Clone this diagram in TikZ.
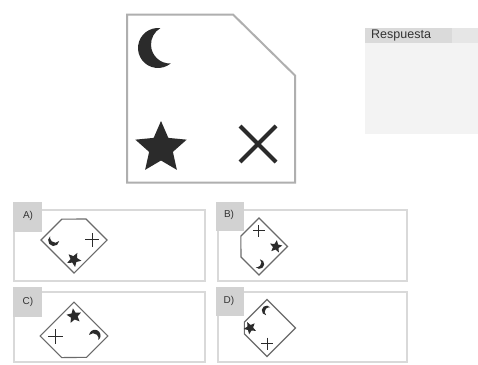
\documentclass[tikz,border=0pt]{standalone}
\usepackage{fontspec}
\setmainfont{Liberation Sans}
\definecolor{symc}{HTML}{2B2B2B}
\definecolor{mainb}{HTML}{AFAFAF}
\definecolor{optb}{HTML}{6A6A6A}
\definecolor{boxb}{HTML}{D9D9D9}
\definecolor{tabf}{HTML}{D2D2D2}
\definecolor{panelf}{HTML}{F3F3F3}
\definecolor{hdrf}{HTML}{DADADA}
\definecolor{hdrg}{HTML}{E6E6E6}
\definecolor{txtc}{HTML}{333333}
\tikzset{
  optbox/.style={draw=boxb, line width=1.5pt, fill=white},
  tabbox/.style={fill=tabf, draw=none},
  tablabel/.style={font=\fontsize{10}{11}\selectfont, text=txtc, inner sep=0pt},
  mainoutline/.style={draw=mainb, line width=2pt, line join=miter},
  optoutline/.style={draw=optb, line width=1.1pt, line join=miter},
}
% symbols of the figure in local coordinates (side 168, centre 0,0, y up)
\newcommand\figsyms[1]{%
  \fill[symc] (-50.65,70.36) arc[start angle=83.25, end angle=309.26, radius=20]
    arc[start angle=272, end angle=120.5, radius=19] -- cycle;
  \begin{scope}[shift={(-50,-49.5)}]
    \fill[symc] (90:27) -- (126:12.5) -- (162:27) -- (198:12.5) -- (234:27) --
      (270:12.5) -- (306:27) -- (342:12.5) -- (18:27) -- (54:12.5) -- cycle;
  \end{scope}
  \draw[symc, line width=#1] (29,-63.5) -- (65,-27.5) (29,-27.5) -- (65,-63.5);
}
\newcommand\figline{(-84,84) -- (22,84) -- (84,23) -- (84,-84) -- (-84,-84) -- cycle}
\begin{document}
\begin{tikzpicture}[x=1pt, y=1pt]
\useasboundingbox (0,0) rectangle (478,-364);
\fill[white] (0,0) rectangle (478,-364);

% main figure
\begin{scope}[shift={(211,-98.5)}]
  \fill[white] \figline;
  \draw[mainoutline] \figline;
  \figsyms{4pt}
\end{scope}

% answer panel
\fill[panelf] (365,-28) rectangle (478,-134);
\fill[hdrf] (365,-28) rectangle (452,-43);
\fill[hdrg] (452,-28) rectangle (478,-43);
\node[anchor=west, inner sep=0pt, text=txtc, font=\fontsize{12.5}{13}\selectfont] (resp) at (371,-35.5) {Respuesta};

% option boxes
\draw[optbox] (14,-210) rectangle (205,-281);
\draw[optbox] (218,-210) rectangle (407,-281);
\draw[optbox] (14,-292) rectangle (205,-362);
\draw[optbox] (218,-292) rectangle (407,-362);
\fill[tabbox] (13,-202) rectangle (42,-232);
\fill[tabbox] (216,-202) rectangle (244,-231);
\fill[tabbox] (13,-287) rectangle (42,-317);
\fill[tabbox] (216,-287) rectangle (244,-316);
\node[tablabel] (la) at (28,-216) {A)};
\node[tablabel] (lb) at (229,-215) {B)};
\node[tablabel] (lc) at (28,-302) {C)};
\node[tablabel] (ld) at (229,-301) {D)};

% option A
\begin{scope}[shift={(74,-240)}, rotate=45, scale=0.278]
  \draw[optoutline] \figline;
  \figsyms{1.3pt}
\end{scope}
% option B
\begin{scope}[shift={(259,-246.5)}, rotate=135, scale=0.24]
  \draw[optoutline] \figline;
  \figsyms{1.2pt}
\end{scope}
% option C
\begin{scope}[shift={(74,-336)}, rotate=-135, scale=0.285]
  \draw[optoutline] \figline;
  \figsyms{1.3pt}
\end{scope}
% option D
\begin{scope}[shift={(267,-328)}, rotate=-45, scale=0.24]
  \draw[optoutline] (-84,84) -- (84,84) -- (84,-84) -- (-49,-84) -- (-84,-49) -- cycle;
  \figsyms{1.2pt}
\end{scope}
\end{tikzpicture}
\end{document}
